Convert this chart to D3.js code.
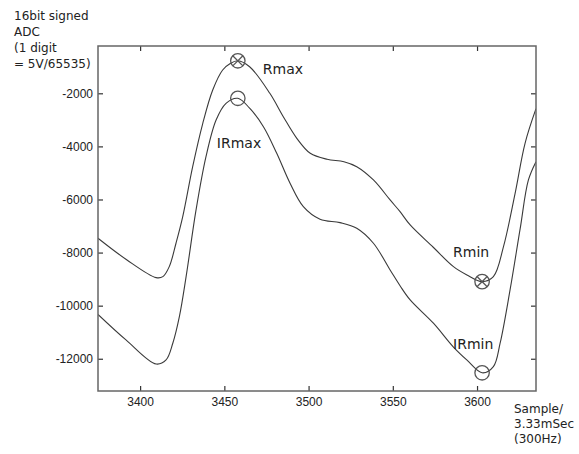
<!DOCTYPE html>
<html>
<head>
<meta charset="utf-8">
<script src="https://cdn.jsdelivr.net/npm/d3@7"></script>
<style>
  html, body { margin: 0; padding: 0; background: #fff; }
  svg { display: block; }
</style>
</head>
<body>
<svg id="chart" width="579" height="454"></svg>
<script>
// Red (R) channel trace
const rSamples = [3375, 3392, 3409.5, 3413.5, 3417.3, 3421.3, 3425.3, 3431.2, 3437.2, 3443.1, 3449, 3453.5, 3458, 3465, 3477, 3485, 3493, 3501, 3511, 3521, 3528.6, 3538.5, 3548.4, 3554.3, 3560.3, 3574, 3586, 3594, 3603, 3609.7, 3615.7, 3622.6, 3628.5, 3635];
const rValues  = [-7460, -8270, -8944, -8907, -8530, -7649, -6647, -4764, -3130, -1876, -1123, -880, -775, -1000, -2000, -2881, -3695, -4260, -4486, -4576, -4764, -5265, -6018, -6459, -6960, -7800, -8530, -8843, -9095, -8907, -7777, -5769, -3883, -2580];

// Infrared (IR) channel trace
const irSamples = [3375, 3391.6, 3409.5, 3415.4, 3419.4, 3423.3, 3427.3, 3433.2, 3439.1, 3445.1, 3451, 3458, 3465, 3473.2, 3481.1, 3489, 3496.9, 3506.8, 3518.7, 3528.6, 3538.5, 3548.4, 3554.3, 3560.3, 3574.1, 3586, 3593.9, 3603, 3609.7, 3613.7, 3619.6, 3625.6, 3630.5, 3635];
const irValues  = [-10330, -11291, -12200, -12044, -11415, -10413, -8907, -6395, -4388, -3006, -2377, -2188, -2560, -3257, -4260, -5389, -6271, -6745, -6873, -7084, -7649, -8654, -9250, -9784, -10662, -11560, -12044, -12530, -12296, -11415, -9408, -7100, -5265, -4576];

// Peak / trough markers
const markerNames   = ["Rmax", "IRmax", "Rmin", "IRmin"];
const markerSamples = [3458, 3458, 3603, 3603];
const markerValues  = [-775, -2188, -9095, -12530];
const markerCrossed = [true, false, true, false];

const xTicks = [3400, 3450, 3500, 3550, 3600];
const yTicks = [-2000, -4000, -6000, -8000, -10000, -12000];

const yTitleLines = ["16bit signed", "ADC", "(1 digit", "= 5V/65535)"];
const xTitleLines = ["Sample/", "3.33mSec", "(300Hz)"];

const svg = d3.select("#chart");
const plotLeft = 98, plotTop = 46, plotRight = 536, plotBottom = 391;

const x = d3.scaleLinear().domain([3375, 3635]).range([plotLeft, plotRight]);
const y = d3.scaleLinear().domain([-13215, -218]).range([plotBottom, plotTop]);

const axisColor = "#666";
const tickFont = "'Liberation Sans', Arial, sans-serif";
const labelFont = "'DejaVu Sans', Verdana, sans-serif";
const plainNumber = d => String(d);   // keep ASCII hyphen for negatives

// clip for traces
svg.append("defs").append("clipPath").attr("id", "plotClip")
  .append("rect").attr("x", plotLeft).attr("y", plotTop)
  .attr("width", plotRight - plotLeft).attr("height", plotBottom - plotTop);

// traces
const line = d3.line().x(d => x(d[0])).y(d => y(d[1])).curve(d3.curveCatmullRom.alpha(0.5));
const traces = [d3.zip(rSamples, rValues), d3.zip(irSamples, irValues)];
svg.append("g").attr("clip-path", "url(#plotClip)")
  .selectAll("path").data(traces).join("path")
  .attr("d", line)
  .attr("fill", "none")
  .attr("stroke", "#3a3a3a")
  .attr("stroke-width", 1.1);

// axes (ticks inside, mirrored on all four sides)
const tickLen = 5;
const bottomAxis = d3.axisBottom(x).tickValues(xTicks).tickSize(-tickLen).tickPadding(6).tickFormat(plainNumber);
const topAxis = d3.axisTop(x).tickValues(xTicks).tickSize(-tickLen).tickFormat("");
const leftAxis = d3.axisLeft(y).tickValues(yTicks).tickSize(-tickLen).tickPadding(5).tickFormat(plainNumber);
const rightAxis = d3.axisRight(y).tickValues(yTicks).tickSize(-tickLen).tickFormat("");

function styleAxis(g) {
  g.select(".domain").remove();
  g.selectAll(".tick line").attr("stroke", "#333").attr("stroke-width", 1.2);
  g.selectAll(".tick text").attr("fill", "#222").attr("font-family", tickFont).attr("font-size", 12);
}
svg.append("g").attr("transform", `translate(0,${plotBottom})`).call(bottomAxis).call(styleAxis);
svg.append("g").attr("transform", `translate(0,${plotTop})`).call(topAxis).call(styleAxis);
svg.append("g").attr("transform", `translate(${plotLeft},0)`).call(leftAxis).call(styleAxis);
svg.append("g").attr("transform", `translate(${plotRight},0)`).call(rightAxis).call(styleAxis);

// frame
svg.append("rect")
  .attr("x", plotLeft).attr("y", plotTop).attr("width", plotRight - plotLeft).attr("height", plotBottom - plotTop)
  .attr("fill", "none").attr("stroke", axisColor).attr("stroke-width", 1.5);

// axis titles
svg.append("text").attr("font-family", labelFont).attr("font-size", 12).attr("fill", "#222")
  .selectAll("tspan").data(yTitleLines).join("tspan")
  .attr("x", 14).attr("y", (d, i) => 20 + i * 16).text(d => d);

svg.append("text").attr("font-family", labelFont).attr("font-size", 12).attr("fill", "#222")
  .selectAll("tspan").data(xTitleLines).join("tspan")
  .attr("x", 514).attr("y", (d, i) => 413 + i * 15).text(d => d);

// markers
const markers = markerNames.map((n, i) => ({ name: n, s: markerSamples[i], v: markerValues[i], crossed: markerCrossed[i] }));
const mg = svg.append("g").attr("fill", "none").attr("stroke", "#555").attr("stroke-width", 1.3);
const r = 7.2;
markers.forEach(m => {
  const cx = x(m.s), cy = y(m.v);
  mg.append("circle").attr("cx", cx).attr("cy", cy).attr("r", r);
  if (m.crossed) {
    const k = r * Math.SQRT1_2;
    mg.append("line").attr("x1", cx - k).attr("y1", cy - k).attr("x2", cx + k).attr("y2", cy + k);
    mg.append("line").attr("x1", cx - k).attr("y1", cy + k).attr("x2", cx + k).attr("y2", cy - k);
  }
});

// marker labels
const labelPos = {
  Rmax:  { dx: 25,  dy: 13 },
  IRmax: { dx: -21, dy: 50 },
  Rmin:  { dx: -29, dy: -25 },
  IRmin: { dx: -29, dy: -24 }
};
svg.append("g").attr("font-family", labelFont).attr("font-size", 14).attr("fill", "#222")
  .selectAll("text").data(markers).join("text")
  .attr("x", d => x(d.s) + labelPos[d.name].dx)
  .attr("y", d => y(d.v) + labelPos[d.name].dy)
  .text(d => d.name);
</script>
</body>
</html>
